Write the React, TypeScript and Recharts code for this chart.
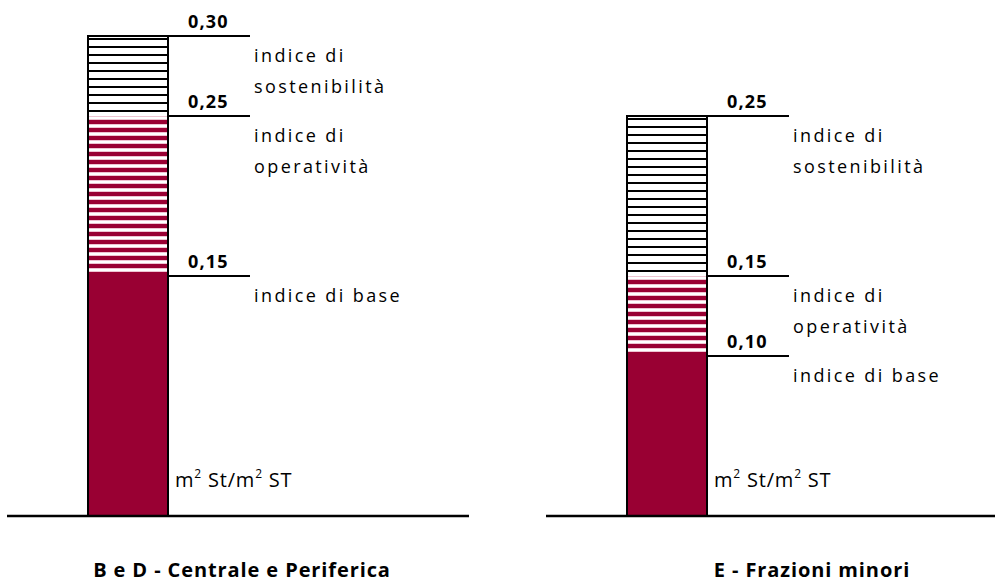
import React from 'react';
import { Bar, BarChart, LabelList, XAxis, YAxis } from 'recharts';

// soglie cumulative dell'indice (m² St / m² ST)
const leftZone = ['B e D - Centrale e Periferica'];
const leftBase = [0.15];
const leftOper = [0.25];
const leftSost = [0.30];

const rightZone = ['E - Frazioni minori'];
const rightBase = [0.10];
const rightOper = [0.15];
const rightSost = [0.25];

const baseText = ['indice di base'];
const operText = ['indice di', 'operatività'];
const sostText = ['indice di', 'sostenibilità'];

const FONT = '"Open Sans", sans-serif';
const CRIMSON = '#990033';
const BAR = 80;

const fmt = (v: number) => v.toFixed(2).replace('.', ',');

const buildData = (zone: string[], base: number[], oper: number[], sost: number[]) =>
  zone.map((name, i) => ({ name, base: base[i], oper: oper[i], sost: sost[i] }));

const SideShape = (props: any) => {
  const { x, y, width, height, fill, top } = props;
  if (!height) return null;
  return (
    <g>
      <rect x={x} y={y} width={width} height={height} fill={fill} />
      <line x1={x} x2={x} y1={y - 1} y2={y + height} stroke="#000" strokeWidth={2} />
      <line x1={x + width} x2={x + width} y1={y - 1} y2={y + height} stroke="#000" strokeWidth={2} />
      {top && <line x1={x - 1} x2={x + width} y1={y} y2={y} stroke="#000" strokeWidth={2} />}
    </g>
  );
};

const makeLabel = (lines: string[], withUnit: boolean) => (props: any) => {
  const vb = props.viewBox || {};
  const x = props.x ?? vb.x;
  const y = props.y ?? vb.y;
  const width = props.width ?? vb.width;
  const height = props.height ?? vb.height;
  const raw = Array.isArray(props.value) ? props.value[props.value.length - 1] : props.value;
  const right = x + width;
  return (
    <g>
      <line x1={right} x2={right + 82} y1={y} y2={y} stroke="#000" strokeWidth={2} />
      <text x={right + 20} y={y - 8} fontFamily={FONT} fontWeight="bold" fontSize={18} letterSpacing={1.2} fill="#000">
        {fmt(Number(raw))}
      </text>
      {lines.map((l, i) => (
        <text key={l} x={right + 86} y={y + 26 + i * 31} fontFamily={FONT} fontSize={18} letterSpacing={2.4} fill="#000">
          {l}
        </text>
      ))}
      {withUnit && (
        <text x={right + 7} y={y + height - 29} fontFamily={FONT} fontSize={20} letterSpacing={0.8} fill="#000" style={{ whiteSpace: 'pre' }}>
          m<tspan dy={-9} fontSize={12}>2</tspan>
          <tspan dy={9}>{' St/m'}</tspan>
          <tspan dy={-9} fontSize={12}>2</tspan>
          <tspan dy={9}>{' ST'}</tspan>
        </text>
      )}
    </g>
  );
};

const Patterns = ({ id }: { id: string }) => (
  <defs>
    <pattern id={`${id}-sost`} patternUnits="userSpaceOnUse" width={8} height={8}>
      <rect width={8} height={8} fill="#fff" />
      <rect y={6} width={8} height={2} fill="#000" />
    </pattern>
    <pattern id={`${id}-oper`} patternUnits="userSpaceOnUse" width={8} height={8}>
      <rect width={8} height={8} fill={CRIMSON} />
      <rect y={4} width={8} height={4} fill="#eec3d1" />
      <rect y={5} width={8} height={2} fill="#fff" />
    </pattern>
  </defs>
);

const IndexChart = ({ id, data, width, margin, padRight }: any) => (
  <BarChart width={width} height={584} data={data} margin={margin} barGap={-BAR} barSize={BAR}>
    <Patterns id={id} />
    <XAxis
      dataKey="name"
      tick={false}
      tickLine={false}
      height={2}
      padding={{ left: 0, right: padRight }}
      axisLine={{ stroke: '#000', strokeWidth: 2.5 }}
    />
    <YAxis hide domain={[0, 0.3]} />
    <Bar dataKey="sost" fill={`url(#${id}-sost)`} isAnimationActive={false} shape={(p: any) => <SideShape {...p} top />}>
      <LabelList dataKey="sost" content={makeLabel(sostText, false)} />
    </Bar>
    <Bar dataKey="oper" fill={`url(#${id}-oper)`} isAnimationActive={false} shape={(p: any) => <SideShape {...p} />}>
      <LabelList dataKey="oper" content={makeLabel(operText, false)} />
    </Bar>
    <Bar dataKey="base" fill={CRIMSON} isAnimationActive={false} shape={(p: any) => <SideShape {...p} />}>
      <LabelList dataKey="base" content={makeLabel(baseText, true)} />
    </Bar>
  </BarChart>
);

const titleStyle: React.CSSProperties = {
  position: 'absolute',
  top: 558,
  width: 400,
  textAlign: 'center',
  fontFamily: FONT,
  fontWeight: 'bold',
  fontSize: 20,
  lineHeight: '24px',
  letterSpacing: 0.9,
  whiteSpace: 'nowrap',
  color: '#000',
};

export default function App() {
  const leftData = buildData(leftZone, leftBase, leftOper, leftSost);
  const rightData = buildData(rightZone, rightBase, rightOper, rightSost);
  return (
    <div style={{ position: 'absolute', left: 0, top: 0, width: 995, height: 584, background: '#fff', overflow: 'hidden' }}>
      <div style={{ position: 'absolute', left: 0, top: 0 }}>
        <IndexChart id="bd" data={leftData} width={480} margin={{ top: 36, right: 11, bottom: 66, left: 7 }} padRight={221} />
      </div>
      <div style={{ position: 'absolute', left: 500, top: 0 }}>
        <IndexChart id="ef" data={rightData} width={495} margin={{ top: 36, right: 0, bottom: 66, left: 46 }} padRight={208} />
      </div>
      <div style={{ ...titleStyle, left: 242 - 200 }}>{leftZone[0]}</div>
      <div style={{ ...titleStyle, left: 812 - 200 }}>{rightZone[0]}</div>
    </div>
  );
}
